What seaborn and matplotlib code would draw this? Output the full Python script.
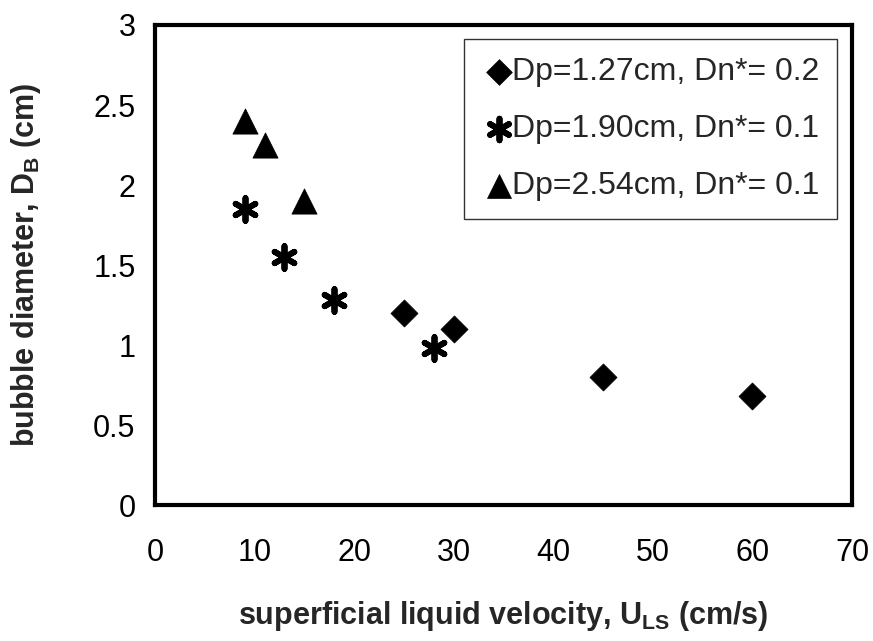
import matplotlib
matplotlib.use("Agg")
import matplotlib.pyplot as plt
import seaborn as sns
import pandas as pd

sns.set_theme(style="white")
plt.rcParams['font.family'] = ['Liberation Sans', 'DejaVu Sans']
plt.rcParams['mathtext.fontset'] = 'custom'
plt.rcParams['mathtext.rm'] = 'Liberation Sans'
plt.rcParams['mathtext.bf'] = 'Liberation Sans:bold'

series = ["Dp=1.27cm, Dn*= 0.2", "Dp=1.90cm, Dn*= 0.1", "Dp=2.54cm, Dn*= 0.1"]
u_127 = [25, 30, 45, 60]
d_127 = [1.20, 1.10, 0.80, 0.68]
u_190 = [9, 13, 18, 28]
d_190 = [1.85, 1.55, 1.28, 0.98]
u_254 = [9, 11, 15]
d_254 = [2.40, 2.25, 1.90]

df = pd.DataFrame({
    "u": u_127 + u_190 + u_254,
    "d": d_127 + d_190 + d_254,
    "s": [series[0]] * len(u_127) + [series[1]] * len(u_190) + [series[2]] * len(u_254),
})

fig = plt.figure(figsize=(8.73, 6.41), dpi=100)
ax = fig.add_axes([0.1775, 0.212, 0.7985, 0.749])

markers = {series[0]: "D", series[1]: (6, 2, 0), series[2]: "^"}
sizes = {series[0]: 190, series[1]: 270, series[2]: 330}
for s in series:
    sub = df[df.s == s]
    sns.scatterplot(data=sub, x="u", y="d", marker=markers[s], s=sizes[s],
                    color="black", edgecolor="black",
                    linewidth=4.2 if s == series[1] else 0.5,
                    ax=ax, label=s)

ax.set_xlim(0, 70)
ax.set_ylim(0, 3)
ax.set_xticks(range(0, 71, 10))
ax.set_yticks([0, 0.5, 1, 1.5, 2, 2.5, 3])
ax.set_yticklabels(["0", "0.5", "1", "1.5", "2", "2.5", "3"])
ax.tick_params(axis="both", direction="inout", length=8, width=1, colors="black",
               labelsize=22)
ax.tick_params(axis="y", pad=10)
ax.tick_params(axis="x", pad=20)
for sp in ax.spines.values():
    sp.set_color("black")
    sp.set_linewidth(3)

ax.set_xlabel(r"superficial liquid velocity, U$_{\mathbf{LS}}$ (cm/s)",
              fontsize=22, fontweight="bold", labelpad=22)
ax.set_ylabel(r"bubble diameter, D$_{\mathbf{B}}$ (cm)",
              fontsize=22, fontweight="bold", labelpad=36)

leg = ax.legend(loc="upper right", bbox_to_anchor=(0.978, 0.97), fontsize=23,
                frameon=True, fancybox=False, edgecolor="black",
                handletextpad=-0.15, handlelength=1.1, borderpad=0.55,
                labelspacing=0.85, markerscale=0.95, borderaxespad=0)
leg.get_frame().set_linewidth(1.0)

fig.savefig("out.png", dpi=100, facecolor="white")
